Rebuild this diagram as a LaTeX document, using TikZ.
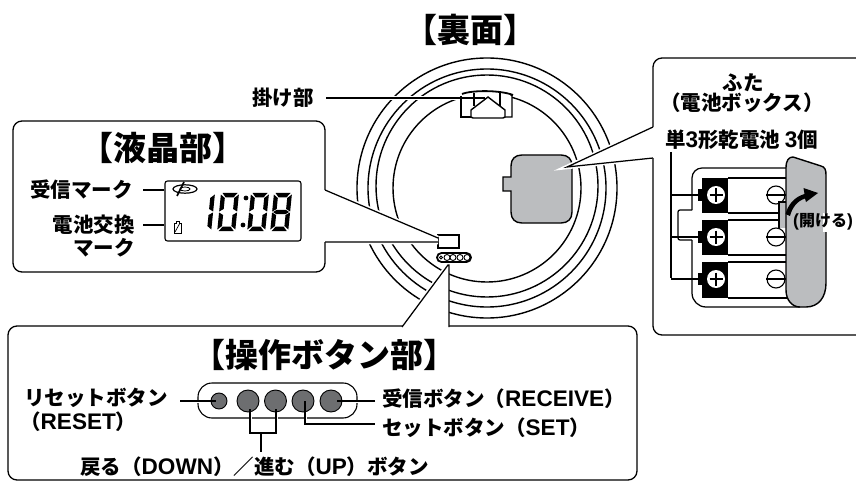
\documentclass[tikz,border=0pt]{standalone}
\usepackage{fontspec}
\setmainfont{Noto Sans CJK JP}
\newfontfamily\lat{Liberation Sans}[Scale=1.1]
\newcommand\la[1]{{\lat\bfseries #1}}
\definecolor{covergray}{HTML}{BBBDBF}
\definecolor{btngray}{HTML}{6D6E70}
\newcommand\tsize[1]{\fontsize{#1}{#1}\selectfont\bfseries}
\newcommand\segA{(1.5,0)--(16.5,0)--(13,4.3)--(5,4.3)--cycle}
\newcommand\segD{(1.5,38)--(16.5,38)--(13,33.7)--(5,33.7)--cycle}
\newcommand\segG{(1,19)--(4.5,16.8)--(13.5,16.8)--(17,19)--(13.5,21.2)--(4.5,21.2)--cycle}
\newcommand\segF{(0,1.5)--(4.3,5)--(4.3,16)--(0,18.5)--cycle}
\newcommand\segE{(0,19.5)--(4.3,22)--(4.3,33)--(0,36.5)--cycle}
\newcommand\segB{(18,1.5)--(13.7,5)--(13.7,16)--(18,18.5)--cycle}
\newcommand\segC{(18,19.5)--(13.7,22)--(13.7,33)--(18,36.5)--cycle}
\newcommand\lcddigit[3]{\begin{scope}[shift={(#1,#2)},xslant=0.1]
  \foreach \lcdseg in {#3}{\expandafter\fill\csname seg\lcdseg\endcsname;}
\end{scope}}
\tikzset{
  ln/.style={draw=black,line width=1.4pt},
  thinln/.style={draw=black,line width=1.25pt},
  halo/.style={draw=white,line width=4.5pt},
  panel/.style={draw=black,fill=white,line width=1.3pt,rounded corners=9pt,inner sep=0pt},
  lbl/.style={inner sep=0pt,anchor=west,font=\tsize{20.5}},
  ttl/.style={inner sep=0pt,font=\tsize{33}},
  btn/.style={circle,fill=btngray,draw=black,line width=.9pt,inner sep=0pt},
  cover/.style={fill=covergray,draw=black,line width=1.4pt},
}
\begin{document}
\begin{tikzpicture}[x=1pt,y=-1pt]
\useasboundingbox (0,0) rectangle (856,481);
\fill[white] (0,0) rectangle (856,481);
% rings
\draw[ln] (487,188) circle[radius=130];
\draw[ln] (487,188) circle[radius=119];
\draw[ln] (487,186) circle[radius=111];
\draw[ln] (487,188) circle[radius=94];
% cover of the clock
\filldraw[cover] (511,177) -- (503,177) -- (503,191) -- (511,191) -- (511,212) .. controls (511,219) and (515,223) .. (522,223) -- (561,223) .. controls (568,223) and (572,219) .. (572,212) -- (572,166) .. controls (572,159) and (568,155) .. (561,155) -- (522,155) .. controls (515,155) and (511,159) .. (511,166) -- cycle;
% hook
\fill[white] (461,92) rectangle (512,118);
\draw[halo,line width=4pt] (326,98) -- (470,98);
\draw[ln] (461,96) -- (461,117) -- (471,117);
\draw[ln] (505,117) -- (512,117) -- (512,96) -- (510,94);
\draw[ln] (474,93) -- (474,106);
\draw[ln] (500,93) -- (500,106);
\draw[line width=1.8pt] (462,94) .. controls (472,90) and (500,90) .. (513,95);
\filldraw[fill=white,ln] (471,117) -- (471,110) -- (488,97) -- (505,110) -- (505,117) -- (503,118) -- (473,118) -- cycle;
\node[lbl] (hooklabel) at (252,98) {掛け部};
\coordinate (hookstart) at (326,98);
\coordinate (hookend) at (485,98);
\draw[thinln] (hookstart) -- (hookend);
% lcd target and button target on the clock
\node[draw=black,fill=white,line width=1.3pt,minimum width=21pt,minimum height=13pt,inner sep=0pt] (lcdtarget) at (448.5,241.5) {};
\node[draw=black,fill=white,line width=1.8pt,rounded corners=4.5pt,minimum width=34pt,minimum height=9pt,inner sep=0pt] (btntarget) at (454,257.5) {};
\foreach \cx/\cr/\cn in {441/1.5/a,447/3/b,453/3/c,460/3/d,467/3/e}
  \node[circle,draw=black,line width=.9pt,inner sep=0pt,minimum size=2*\cr pt] (mini\cn) at (\cx,257.5) {};
% LCD panel
\coordinate (lcdA) at (325,190);
\coordinate (lcdB) at (325,242);
\coordinate (lcdtip) at (438,238);
\coordinate (lcdtipb) at (438,242);
\draw[halo] (lcdA) -- (lcdtip) (lcdB) -- (lcdtipb);
\node[panel,minimum width=312pt,minimum height=151pt] (lcdpanel) at (169,196.5) {};
\fill[white] (lcdA) -- (lcdtip) -- (lcdtipb) -- (lcdB) -- cycle;
\draw[white,line width=2pt] (lcdA) -- (lcdB);
\draw[thinln] (lcdA) -- (lcdtip) (lcdB) -- (lcdtipb);
\node[ttl] (lcdtitle) at (163,148) {【液晶部】};
\node[draw=black,line width=1.1pt,rounded corners=2.5pt,minimum width=136pt,minimum height=60pt,inner sep=0pt] (lcdframe) at (233,211) {};
\node[lbl] (rxlabel) at (30,190) {受信マーク};
\node[lbl,anchor=east] (batlabelA) at (135,225) {電池交換};
\node[lbl,anchor=east] (batlabelB) at (135,248) {マーク};
\coordinate (rxlead) at (143,190);
\coordinate (batlead) at (143,225);
\draw[thinln] (rxlead) -- (lcdframe.west |- rxlead);
\draw[thinln] (batlead) -- (lcdframe.west |- batlead);
% lcd icons
\draw[line width=1.2pt,fill=white] (185,189) ellipse[x radius=12,y radius=4.2];
\draw[line width=.8pt] (185,189) ellipse[x radius=5,y radius=2];
\draw[line width=1.6pt] (184,182) -- (177,196);
\draw[line width=.9pt] (174,223) -- (176,223) -- (176,221) -- (179,221) -- (179,223) -- (181,223) -- (181,233) -- (174,233) -- cycle;
\draw[line width=.7pt] (175,232) -- (180,223);
% digits
\lcddigit{197}{193}{B,C}
\lcddigit{221}{193}{A,B,C,D,E,F}
\lcddigit{251}{193}{A,B,C,D,E,F}
\lcddigit{274}{193}{A,B,C,D,E,F,G}
\fill (246,198) circle[radius=2.4];
\fill (243,225) circle[radius=2.4];
% Battery panel
\coordinate (batA) at (653,127);
\coordinate (batB) at (653,158);
\coordinate (battip) at (567,167);
\draw[halo] (batA) -- (battip) -- (batB);
\node[panel,minimum width=220pt,minimum height=277pt] (batpanel) at (763,196.5) {};
\fill[white] (batA) -- (battip) -- (batB) -- cycle;
\draw[white,line width=2pt] (batA) -- (batB);
\draw[thinln] (batA) -- (battip) -- (batB);
\node[inner sep=0pt,font=\tsize{20.5}] (fuo) at (743,83) {ふた};
\node[inner sep=0pt,font=\tsize{20.5}] (fub) at (742,103) {（電池ボックス）};
\node[lbl] (cells) at (665,140) {単\la{3}形乾電池 \la{3}個};
% leads
\coordinate (leadtop) at (671,152);
\coordinate (leadbot) at (671,278);
\draw[thinln] (leadtop) -- (leadbot);
% holder
\draw[thinln,rounded corners=10pt] (790,168) -- (692,168) -- (692,210);
\draw[thinln,rounded corners=2pt] (692,210) -- (678,210) -- (678,240) -- (692,240);
\draw[thinln,rounded corners=14pt] (692,240) -- (692,307) -- (800,307);
% batteries
\foreach \by/\bh/\bc/\bn in {178/35/195/a,220/35/237/b,262/36/279/c}{
  \draw[thinln] (728,\by) -- (790,\by) (728,\by+\bh) -- (790,\by+\bh);
  \fill (702,\by) rectangle (728,\by+\bh);
  \fill (698,\bc-6) rectangle (703,\bc+6);
  \node[circle,fill=white,inner sep=0pt,minimum size=18pt] (plus\bn) at (716,\bc) {};
  \draw[line width=2.4pt] (716,\bc-6.5) -- (716,\bc+6.5) (709.5,\bc) -- (722.5,\bc);
  \node[circle,draw=black,fill=white,line width=1.1pt,inner sep=0pt,minimum size=18pt] (minus\bn) at (776,\bc) {};
  \draw[line width=1.1pt] (minus\bn.west) -- (minus\bn.east);
  \draw[thinln] (leadtop |- plus\bn) -- (698,\bc);
}
% cover tab and cover
\fill[covergray] (779,202) rectangle (787,228);
\draw[thinln] (786,202) -- (779,202) -- (779,228);
\filldraw[cover] (786,290) -- (786,168) .. controls (786,160) and (789,157) .. (793,157) -- (821,166) .. controls (825,167) and (826,170) .. (826,175) -- (826,283) .. controls (826,298) and (818,307) .. (806,307) -- (800,307) .. controls (792,307) and (786,300) .. (786,290) -- cycle;
\fill[white] (823,213) rectangle (829,232);
\fill (785.5,214) .. controls (788,205) and (794,197) .. (804.5,194) -- (803.5,188) -- (818,193) -- (806,202) -- (805,198.5) .. controls (797,201) and (792,208) .. (790,216) -- cycle;
\node[inner sep=0pt,font=\tsize{16}] (open) at (823,222) {\la{(}開ける\la{)}};
% Buttons panel
\coordinate (btnA) at (402,327);
\coordinate (btnB) at (449,327);
\coordinate (btntip) at (448,265);
\coordinate (btntipb) at (449,265);
\draw[halo] (btnA) -- (btntip);
\node[panel,minimum width=629pt,minimum height=154pt] (btnpanel) at (322.5,403) {};
\fill[white] (btnA) -- (btntip) -- (btntipb) -- (btnB) -- cycle;
\draw[white,line width=2pt] (btnA) -- (btnB);
\draw[thinln] (btnA) -- (btntip) -- (btntipb) -- (btnB);
\node[ttl] (btntitle) at (324,355) {【操作ボタン部】};
\node[draw=black,line width=1.1pt,rounded corners=14pt,minimum width=159pt,minimum height=35pt,inner sep=0pt] (pill) at (277.5,400.5) {};
\node[btn,minimum size=16pt] (reset) at (219,401) {};
\node[btn,minimum size=22pt] (down) at (248,401) {};
\node[btn,minimum size=22pt] (up) at (275.5,401) {};
\node[btn,minimum size=22pt] (set) at (303,401) {};
\node[btn,minimum size=22pt] (recv) at (331,401) {};
\node[lbl] (resetlabelA) at (24,398) {リセットボタン};
\node[lbl] (resetlabelB) at (20,422) {（\la{RESET}）};
\node[lbl] (recvlabel) at (382,399) {受信ボタン（\la{RECEIVE}）};
\node[lbl] (setlabel) at (382,428) {セットボタン（\la{SET}）};
\node[lbl] (downlabel) at (80,467) {戻る（\la{DOWN}）／進む（\la{UP}）ボタン};
\coordinate (resetlead) at (180,401);
\coordinate (recvlead) at (375,401);
\coordinate (setlead) at (375,424);
\coordinate (dustem) at (261,452);
\coordinate (dubar) at (261,433);
\draw[halo,line width=3pt] (resetlead) -- (205,401) (345,401) -- (recvlead);
\draw[halo,line width=3pt] (305,413) -- (305,424) (250,413) -- (250,425) (276,413) -- (276,425);
\draw[thinln] (resetlead) -- (216,401);
\draw[thinln] (recvlead) -- (337,401);
\draw[thinln] (305,401) -- (305,424) -- (setlead);
\draw[thinln] (250,409) -- (250,433) -- (276,433) -- (276,409);
\draw[thinln] (dubar) -- (dustem);
% title
\node[ttl] (title) at (470,30) {【裏面】};
\end{tikzpicture}
\end{document}
